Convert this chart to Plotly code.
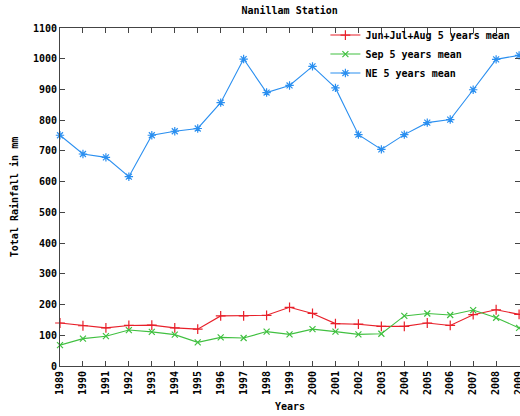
import plotly.graph_objects as go

years = list(range(1989, 2010))
jja_mean = [140, 131, 124, 132, 133, 124, 120, 163, 163, 165, 191,
            171, 138, 136, 129, 129, 140, 132, 167, 183, 168]
sep_mean = [68, 89, 97, 117, 111, 102, 77, 93, 91, 112, 103,
            120, 112, 103, 105, 163, 171, 166, 182, 157, 124]
ne_mean = [751, 690, 679, 616, 751, 764, 773, 857, 999, 890, 913,
           975, 905, 753, 705, 753, 792, 802, 899, 998, 1011]
y_ticks = list(range(0, 1101, 100))

FONT = "DejaVu Sans Mono"
fig = go.Figure()
series = [
    ("Jun+Jul+Aug 5 years mean", jja_mean, "#e8202a", "cross-thin-open", 7),
    ("Sep 5 years mean", sep_mean, "#40c040", "x-thin-open", 6),
    ("NE 5 years mean", ne_mean, "#2a8ff0", "asterisk-open", 7),
]
for name, vals, col, sym, sz in series:
    fig.add_trace(go.Scatter(
        x=years, y=vals, name=name, mode="lines+markers",
        line=dict(color=col, width=1.1),
        marker=dict(symbol=sym, size=sz, color=col, line=dict(color=col, width=1.2)),
        cliponaxis=False,
    ))

tfont = dict(family=FONT, size=10, color="black", weight="bold")
axis_common = dict(
    showgrid=False, zeroline=False, showline=True, linecolor="#444", linewidth=1,
    mirror="ticks", ticks="inside", ticklen=5, tickcolor="#444",
    tickfont=tfont, automargin=False, ticklabeloverflow="allow",
)
fig.update_layout(
    width=520, height=416,
    margin=dict(l=60, r=0, t=28, b=50, autoexpand=False),
    paper_bgcolor="white", plot_bgcolor="white",
    title=dict(text="Nanillam Station", x=0.557, xanchor="center",
               y=1 - 10 / 416, yanchor="middle", yref="container", font=tfont),
    xaxis=dict(range=[1989, 2009.04], tickmode="array", tickvals=years,
               ticktext=[str(y) for y in years], tickangle=-90,
               title=dict(text="Years", standoff=8, font=tfont),
               **axis_common),
    yaxis=dict(range=[0, 1100], tickmode="array", tickvals=y_ticks,
               title=dict(text="Total Rainfall in mm", standoff=12, font=tfont),
               **axis_common),
    legend=dict(x=0.99, xanchor="right", y=1.022, yanchor="top",
                bgcolor="rgba(0,0,0,0)", itemwidth=30, tracegroupgap=0,
                font=tfont),
    showlegend=True,
)
fig.write_html("out.html", config={"displayModeBar": False},
               post_script="document.body.style.margin='0';")
